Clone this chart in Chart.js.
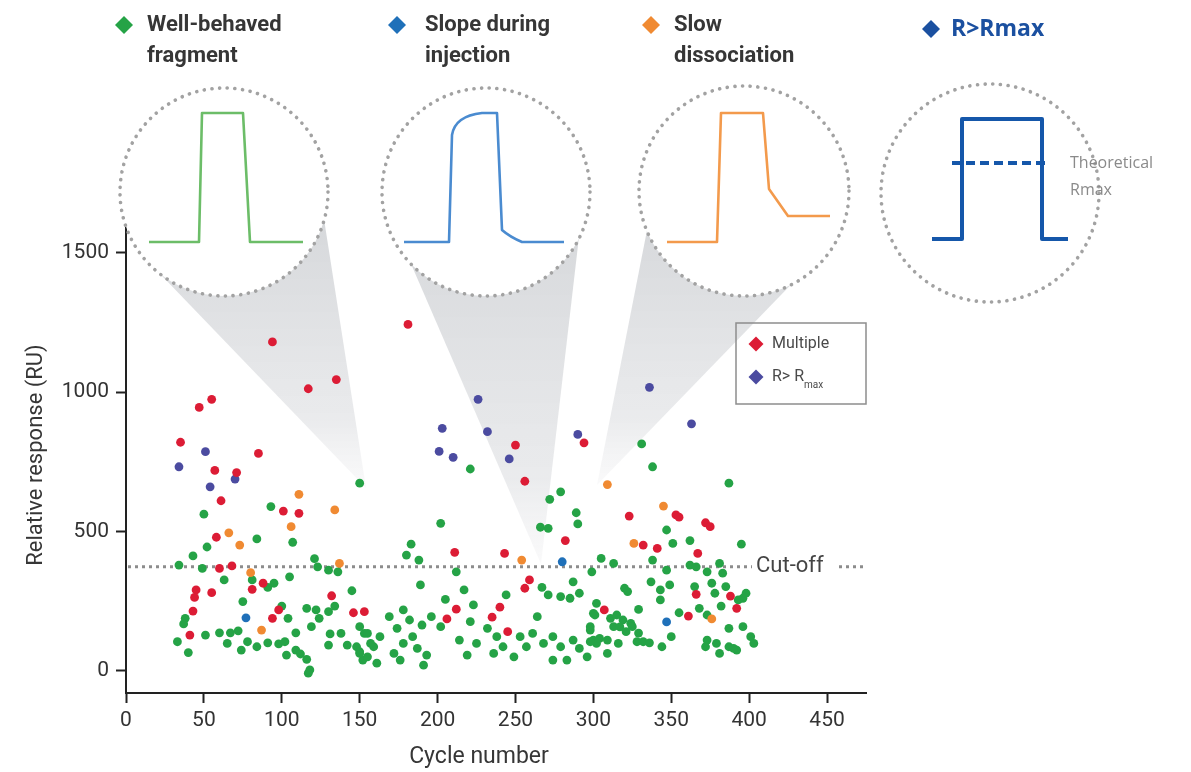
<!DOCTYPE html>
<html>
<head>
<meta charset="utf-8">
<script src="https://cdn.jsdelivr.net/npm/chart.js@4.4.1/dist/chart.umd.min.js"></script>
<style>
  html, body { margin: 0; padding: 0; background: #fff; }
  #wrap { width: 1191px; height: 772px; }
</style>
</head>
<body>
<div id="wrap"><canvas id="chart" width="1191" height="772"></canvas></div>
<script>
// == data == //
const cycleTicks = [0, 50, 100, 150, 200, 250, 300, 350, 400, 450];
const responseTicks = [0, 500, 1000, 1500];
const cutOff = 373;

// [cycle number, relative response]
const multiple = [
    [94, 1180], [117, 1012], [135, 1045], [55, 974], [47, 945], [35, 820], [85, 780], [57, 719], [71, 711],
    [61, 610], [181, 1243], [250, 810], [256, 680], [294, 818], [101, 573], [111, 565], [58, 479], [60, 367],
    [68, 376], [88, 314], [81, 292], [45, 290], [44, 263], [55, 280], [132, 269], [98, 218], [43, 214],
    [146, 208], [94, 188], [41, 128], [153, 212], [211, 425], [243, 421], [282, 467], [259, 326], [256, 296],
    [240, 228], [212, 221], [206, 186], [235, 192], [245, 140], [323, 555], [353, 559], [355, 551], [372, 531],
    [375, 517], [332, 451], [341, 439], [367, 421], [366, 274], [388, 268], [392, 224], [307, 218], [361, 196]
];
const aboveRmax = [
    [51, 786], [34, 732], [54, 660], [70, 688], [226, 974], [203, 870], [232, 858], [201, 787], [210, 766],
    [246, 760], [290, 848], [336, 1017], [363, 886]
];
const slopeInjection = [[77, 190], [280, 391], [347, 175]];
const slowDissociation = [
    [111, 633], [134, 577], [106, 517], [66, 495], [73, 451], [137, 385], [80, 352], [87, 146], [254, 397],
    [309, 668], [345, 591], [326, 457], [376, 186]
];
const wellBehaved = [
    [150, 673], [221, 724], [272, 615], [279, 642], [331, 814], [338, 732], [387, 673], [93, 589], [50, 562],
    [84, 473], [107, 461], [52, 444], [43, 412], [121, 402], [49, 367], [34, 379], [123, 373], [130, 361],
    [136, 355], [105, 337], [63, 326], [81, 326], [95, 314], [91, 299], [145, 287], [75, 248], [100, 232],
    [116, 224], [122, 218], [130, 212], [134, 232], [124, 188], [104, 188], [38, 188], [37, 168], [119, 158],
    [33, 104], [51, 128], [60, 136], [67, 136], [72, 143], [109, 136], [131, 132], [65, 98], [78, 104],
    [84, 86], [91, 100], [98, 96], [102, 104], [74, 74], [40, 65], [109, 74], [112, 60], [116, 41], [103, 56],
    [118, 3], [117, -9], [130, 92], [138, 134], [142, 92], [148, 86], [150, 68], [152, 38], [153, 134],
    [202, 529], [183, 454], [180, 415], [188, 397], [189, 308], [266, 515], [271, 511], [289, 567], [290, 527],
    [212, 355], [217, 290], [205, 256], [223, 236], [244, 272], [267, 299], [271, 272], [279, 266], [285, 260],
    [291, 278], [287, 319], [299, 355], [169, 194], [174, 152], [178, 218], [182, 182], [184, 122], [190, 164],
    [193, 56], [196, 194], [202, 158], [163, 122], [159, 86], [155, 50], [161, 27], [172, 62], [176, 38],
    [178, 98], [187, 80], [191, 20], [221, 176], [214, 110], [219, 56], [225, 98], [232, 152], [238, 122],
    [236, 62], [242, 86], [249, 50], [253, 122], [257, 86], [264, 194], [261, 134], [268, 98], [274, 122],
    [279, 86], [274, 38], [283, 38], [287, 110], [291, 80], [298, 158], [300, 206], [302, 98], [296, 50],
    [150, 158], [155, 134], [157, 98], [150, 62], [347, 505], [362, 467], [351, 457], [395, 454], [305, 403],
    [313, 385], [338, 397], [347, 361], [362, 379], [366, 373], [381, 385], [383, 350], [373, 355], [320, 296],
    [322, 284], [343, 290], [343, 254], [349, 308], [337, 319], [365, 302], [376, 314], [378, 278], [385, 302],
    [396, 260], [398, 278], [393, 254], [302, 242], [301, 200], [311, 188], [315, 200], [319, 182], [324, 170],
    [313, 158], [329, 220], [355, 208], [368, 224], [373, 200], [382, 232], [298, 146], [300, 110], [309, 110],
    [316, 98], [328, 104], [332, 104], [336, 100], [344, 86], [350, 122], [373, 110], [379, 98], [387, 86],
    [392, 74], [396, 158], [401, 122], [403, 98], [309, 62], [381, 62], [390, 80], [372, 86], [387, 152],
    [317, 157], [325, 158], [321, 140], [329, 135], [298, 104], [304, 116]
];

// colours
const GREEN = "#25a346";
const RED = "#dc1c35";
const PURPLE = "#4b4ba0";
const BLUE = "#1f70b9";
const ORANGE = "#f08a32";
const NAVY = "#1b50a0";
const TEXT = "#363636";

function series(label, pts, color) {
    return {
        label: label,
        data: pts.map(p => ({ x: p[0], y: p[1] })),
        backgroundColor: color,
        borderWidth: 0,
        pointRadius: 4.4,
        pointStyle: "circle"
    };
}

function diamond(ctx, x, y, r, color) {
    ctx.beginPath();
    ctx.moveTo(x, y - r);
    ctx.lineTo(x + r, y);
    ctx.lineTo(x, y + r);
    ctx.lineTo(x - r, y);
    ctx.closePath();
    ctx.fillStyle = color;
    ctx.fill();
}

// magnifier circles and the grey cones pointing into the plot
const lenses = [
    { cx: 224, cy: 192, r: 104, cone: [[140, 253], [321, 200], [366, 488]] },
    { cx: 486, cy: 192, r: 104, cone: [[405, 250], [580, 228], [541, 564]] },
    { cx: 744, cy: 191, r: 105, cone: [[650, 215], [810, 265], [597, 485]] },
    { cx: 990, cy: 193, r: 109, cone: null }
];

const overlay = {
    id: "overlay",
    beforeDatasetsDraw(chart) {
        const ctx = chart.ctx;
        ctx.save();

        // cones
        lenses.forEach(l => {
            if (!l.cone) return;
            const c = l.cone;
            const g = ctx.createLinearGradient(0, 220, 0, c[2][1]);
            g.addColorStop(0, "rgba(212,214,217,0.95)");
            g.addColorStop(0.75, "rgba(232,233,235,0.9)");
            g.addColorStop(1, "rgba(246,246,247,0.6)");
            ctx.beginPath();
            ctx.moveTo(c[0][0], c[0][1]);
            ctx.lineTo(c[1][0], c[1][1]);
            ctx.lineTo(c[2][0], c[2][1]);
            ctx.closePath();
            ctx.fillStyle = g;
            ctx.fill();
        });

        // circles
        lenses.forEach(l => {
            ctx.beginPath();
            ctx.arc(l.cx, l.cy, l.r, 0, Math.PI * 2);
            ctx.fillStyle = "#fff";
            ctx.fill();
            ctx.setLineDash([0.1, 7.6]);
            ctx.lineCap = "round";
            ctx.lineWidth = 3.6;
            ctx.strokeStyle = "#a2a2a2";
            ctx.stroke();
            ctx.setLineDash([]);
        });

        // sensorgram sketches
        ctx.lineJoin = "round";
        ctx.lineCap = "butt";
        ctx.lineWidth = 2.6;

        ctx.strokeStyle = "#6cbd68";
        ctx.beginPath();
        ctx.moveTo(149, 242); ctx.lineTo(199, 242); ctx.lineTo(202, 113);
        ctx.lineTo(243, 113); ctx.lineTo(250, 242); ctx.lineTo(303, 242);
        ctx.stroke();

        ctx.strokeStyle = "#4a8bd0";
        ctx.beginPath();
        ctx.moveTo(404, 242); ctx.lineTo(449, 242); ctx.lineTo(452, 135);
        ctx.quadraticCurveTo(455, 116, 482, 113);
        ctx.lineTo(497, 113); ctx.lineTo(502, 230);
        ctx.quadraticCurveTo(510, 237, 522, 242);
        ctx.lineTo(564, 242);
        ctx.stroke();

        ctx.strokeStyle = "#f39a4c";
        ctx.beginPath();
        ctx.moveTo(667, 242); ctx.lineTo(717, 242); ctx.lineTo(721, 113);
        ctx.lineTo(763, 113); ctx.lineTo(769, 189); ctx.lineTo(788, 216);
        ctx.lineTo(830, 216);
        ctx.stroke();

        ctx.strokeStyle = "#1557aa";
        ctx.lineWidth = 4;
        ctx.beginPath();
        ctx.moveTo(932, 239); ctx.lineTo(962, 239); ctx.lineTo(962, 119);
        ctx.lineTo(1042, 119); ctx.lineTo(1042, 239); ctx.lineTo(1068, 239);
        ctx.stroke();
        ctx.setLineDash([9, 5]);
        ctx.beginPath();
        ctx.moveTo(952, 163); ctx.lineTo(1050, 163);
        ctx.stroke();
        ctx.setLineDash([]);

        // cut-off line
        const yCut = chart.scales.y.getPixelForValue(cutOff);
        ctx.strokeStyle = "#8c8c8c";
        ctx.lineWidth = 3;
        ctx.setLineDash([3, 4]);
        ctx.beginPath();
        ctx.moveTo(chart.chartArea.left + 2, yCut);
        ctx.lineTo(752, yCut);
        ctx.moveTo(839, yCut);
        ctx.lineTo(866, yCut);
        ctx.stroke();
        ctx.setLineDash([]);

        ctx.restore();
    },
    afterDraw(chart) {
        const ctx = chart.ctx;
        ctx.save();
        ctx.textBaseline = "middle";
        ctx.textAlign = "left";

        // top legend
        ctx.font = "bold 22px Roboto";
        ctx.fillStyle = TEXT;
        diamond(ctx, 124, 25, 9, GREEN);
        diamond(ctx, 397, 25, 9, BLUE);
        diamond(ctx, 651, 25, 9, ORANGE);
        ctx.fillStyle = TEXT;
        ctx.fillText("Well-behaved", 147, 25);
        ctx.fillText("fragment", 147, 56);
        ctx.fillText("Slope during", 425, 25);
        ctx.fillText("injection", 425, 56);
        ctx.fillText("Slow", 674, 25);
        ctx.fillText("dissociation", 674, 56);
        diamond(ctx, 931, 29, 9, NAVY);
        ctx.fillStyle = NAVY;
        ctx.font = "bold 23px 'Open Sans'";
        ctx.fillText("R>Rmax", 951, 29);

        ctx.fillStyle = "#8a8a8a";
        ctx.font = "16px 'Open Sans'";
        ctx.fillText("Theoretical", 1070, 163);
        ctx.fillText("Rmax", 1070, 190);

        // inner legend
        ctx.strokeStyle = "#8d8d8d";
        ctx.lineWidth = 1.5;
        ctx.strokeRect(736, 323, 130, 81);
        diamond(ctx, 756, 344, 7.5, RED);
        diamond(ctx, 756, 377, 7.5, PURPLE);
        ctx.fillStyle = "#4a4a4a";
        ctx.font = "16px Roboto";
        ctx.fillText("Multiple", 772, 344);
        ctx.fillText("R> R", 772, 377);
        const w = ctx.measureText("R> R").width;
        ctx.font = "10px Roboto";
        ctx.fillText("max", 772 + w, 385);

        // cut-off label
        const yCut = chart.scales.y.getPixelForValue(cutOff);
        ctx.font = "22px Roboto";
        ctx.fillStyle = "#444";
        ctx.fillText("Cut-off", 756, yCut);

        // axis titles
        ctx.fillStyle = TEXT;
        ctx.textAlign = "center";
        ctx.font = "23px Roboto";
        ctx.fillText("Cycle number", 479, 757);
        ctx.font = "22px Roboto";
        ctx.translate(36, 455);
        ctx.rotate(-Math.PI / 2);
        ctx.fillText("Relative response (RU)", 0, 0);

        ctx.restore();
    }
};

document.addEventListener("DOMContentLoaded", () => {
    const ctx = document.getElementById("chart").getContext("2d");

    new Chart(ctx, {
        type: "scatter",
        data: {
            datasets: [
                series("Multiple", multiple, RED),
                series("R> Rmax", aboveRmax, PURPLE),
                series("Slope during injection", slopeInjection, BLUE),
                series("Slow dissociation", slowDissociation, ORANGE),
                series("Well-behaved fragment", wellBehaved, GREEN)
            ]
        },
        options: {
            responsive: false,
            animation: false,
            devicePixelRatio: 1,
            layout: { padding: { left: 0, right: 1191 - 866, top: 228, bottom: 0 } },
            plugins: { legend: { display: false }, tooltip: { enabled: false } },
            scales: {
                x: {
                    type: "linear",
                    min: 0,
                    max: 475,
                    afterBuildTicks: s => { s.ticks = cycleTicks.map(v => ({ value: v })); },
                    afterFit: s => { s.height = 79; },
                    grid: { display: true, drawOnChartArea: false, drawTicks: true, tickLength: 10, tickWidth: 2, tickColor: "#222" },
                    border: { display: true, color: "#222", width: 2 },
                    ticks: { color: "#333", font: { family: "Roboto", size: 21 }, padding: 5, maxRotation: 0, autoSkip: false,
                             callback: v => String(v) }
                },
                y: {
                    type: "linear",
                    min: -80,
                    max: 1589,
                    afterBuildTicks: s => { s.ticks = responseTicks.map(v => ({ value: v })); },
                    afterFit: s => { s.width = 126; },
                    grid: { display: true, drawOnChartArea: false, drawTicks: true, tickLength: 10, tickWidth: 2, tickColor: "#222" },
                    border: { display: true, color: "#222", width: 2 },
                    ticks: { color: "#333", font: { family: "Roboto", size: 21 }, padding: 7, autoSkip: false,
                             callback: v => String(v) }
                }
            }
        },
        plugins: [overlay]
    });
});
</script>
</body>
</html>
